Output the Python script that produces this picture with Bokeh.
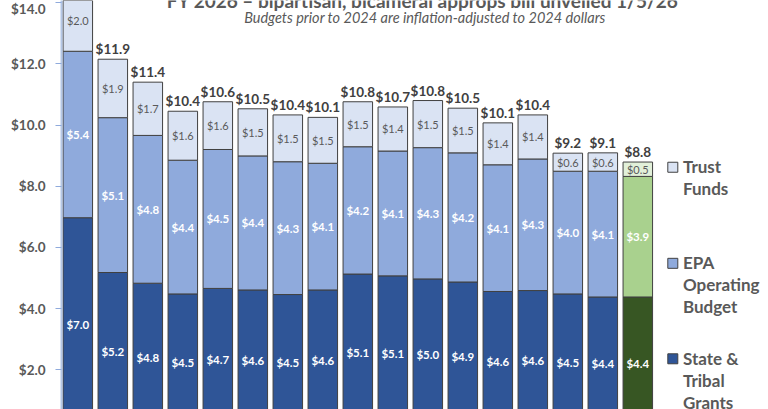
from bokeh.plotting import figure
from bokeh.models import ColumnDataSource, Range1d, FixedTicker, NumeralTickFormatter, Label
from bokeh.core.properties import value
from bokeh.embed import file_html
from bokeh.resources import INLINE

# ---- data ----
bars = [str(i) for i in range(17)]
grants = [6.97, 5.18, 4.83, 4.48, 4.66, 4.61, 4.46, 4.61, 5.13, 5.07, 4.97, 4.87, 4.56, 4.59, 4.48, 4.38, 4.38]
operating = [5.44, 5.06, 4.83, 4.37, 4.54, 4.38, 4.34, 4.14, 4.16, 4.08, 4.29, 4.22, 4.14, 4.30, 4.01, 4.11, 3.94]
trust = [2.0, 1.91, 1.74, 1.60, 1.56, 1.54, 1.53, 1.50, 1.47, 1.44, 1.54, 1.46, 1.37, 1.44, 0.59, 0.60, 0.47]
total_labels = ["$14.4", "$11.9", "$11.4", "$10.4", "$10.6", "$10.5", "$10.4", "$10.1", "$10.8",
                "$10.7", "$10.8", "$10.5", "$10.1", "$10.4", "$9.2", "$9.1", "$8.8"]
legend_names = ["Trust\nFunds", "EPA\nOperating\nBudget", "State &\nTribal\nGrants"]
title_text = "FY 2026 \u2013  bipartisan, bicameral approps bill unveiled 1/5/26"
subtitle_text = "Budgets prior to 2024 are inflation-adjusted to 2024 dollars"
y_ticks = [0, 2, 4, 6, 8, 10, 12, 14]

FONT = "Lato"
n = len(grants)
xs = list(range(n))
highlight = n - 1  # last bar in green

c_gr = ["#2F5597"] * n
c_op = ["#8FAADC"] * n
c_tr = ["#DAE3F3"] * n
c_gr[highlight] = "#375623"
c_op[highlight] = "#A9D18E"
c_tr[highlight] = "#E2F0D9"

g_top = grants
o_top = [g + o for g, o in zip(grants, operating)]
t_top = [a + t for a, t in zip(o_top, trust)]

p = figure(width=768, height=409, output_backend="svg", toolbar_location=None,
           x_range=Range1d(-0.466, 19.734), y_range=Range1d(0.703, 14.069),
           x_axis_location=None, min_border_left=61, min_border_right=0,
           min_border_top=0, min_border_bottom=0)
p.grid.visible = False
p.outline_line_color = None
p.background_fill_color = "white"
p.border_fill_color = "white"

W = 0.843
seg = ColumnDataSource(dict(
    x=xs * 3,
    bottom=[0] * n + g_top + o_top,
    top=g_top + o_top + t_top,
    color=c_gr + c_op + c_tr,
))
p.vbar(x="x", bottom="bottom", top="top", width=W, fill_color="color",
       line_color="#404040", line_width=1, source=seg)

# segment labels
fmt = lambda v: "$%.1f" % v
lab_g = ColumnDataSource(dict(x=xs, y=[g / 2 for g in grants], t=[fmt(v) for v in grants]))
lab_o = ColumnDataSource(dict(x=xs, y=[g + o / 2 for g, o in zip(grants, operating)], t=[fmt(v) for v in operating]))
lab_t = ColumnDataSource(dict(x=xs, y=[a + t / 2 for a, t in zip(o_top, trust)], t=[fmt(v) for v in trust]))
for src in (lab_g, lab_o):
    p.text(x="x", y="y", text="t", source=src, text_align="center", text_baseline="middle",
           text_color="white", text_font=value(FONT), text_font_style="bold", text_font_size="11.5px")
p.text(x="x", y="y", text="t", source=lab_t, text_align="center", text_baseline="middle",
       text_color="#595959", text_font=value(FONT), text_font_size="11px")

# totals
tot = ColumnDataSource(dict(x=xs, y=t_top, t=total_labels))
p.text(x="x", y="y", text="t", source=tot, text_align="center", text_baseline="bottom", y_offset=-2,
       text_color="#404040", text_font=value(FONT), text_font_style="bold", text_font_size="13.5px")

# axis
ax = p.yaxis[0]
ax.ticker = FixedTicker(ticks=y_ticks)
ax.formatter = NumeralTickFormatter(format="$0.0")
ax.axis_line_color = "#B4C7E7"
ax.axis_line_width = 2
ax.major_tick_line_color = "#8FAADC"
ax.major_tick_out = 6
ax.major_tick_in = 0
ax.minor_tick_line_color = None
ax.major_label_standoff = 10
ax.major_label_text_font = FONT
ax.major_label_text_font_style = "bold"
ax.major_label_text_font_size = "13.5px"
ax.major_label_text_color = "#595959"

# titles
p.add_layout(Label(x=9.92, y=14.08, text=title_text, text_align="center", text_baseline="middle",
                   text_font=FONT, text_font_style="bold", text_font_size="19px", text_color="#595959"))
p.text(x=[9.92], y=[13.5], text=[subtitle_text], text_align="center", text_baseline="middle",
       text_font=value(FONT), text_font_style="italic", text_font_size="14.5px", text_color="#595959")

# legend (manual)
leg_y = [8.62, 5.48, 2.36]
leg_colors = ["#DAE3F3", "#8FAADC", "#2F5597"]
p.scatter(x=[17.0] * 3, y=leg_y, marker="square", size=10, fill_color=leg_colors,
          line_color="#404040", line_width=1)
p.text(x=[17.29] * 3, y=leg_y, text=legend_names, text_align="left", text_baseline="top",
       y_offset=-11, text_line_height=1.05,
       text_font=value(FONT), text_font_style="bold", text_font_size="17px", text_color="#595959")

open("out.html", "w").write(file_html(p, INLINE))
